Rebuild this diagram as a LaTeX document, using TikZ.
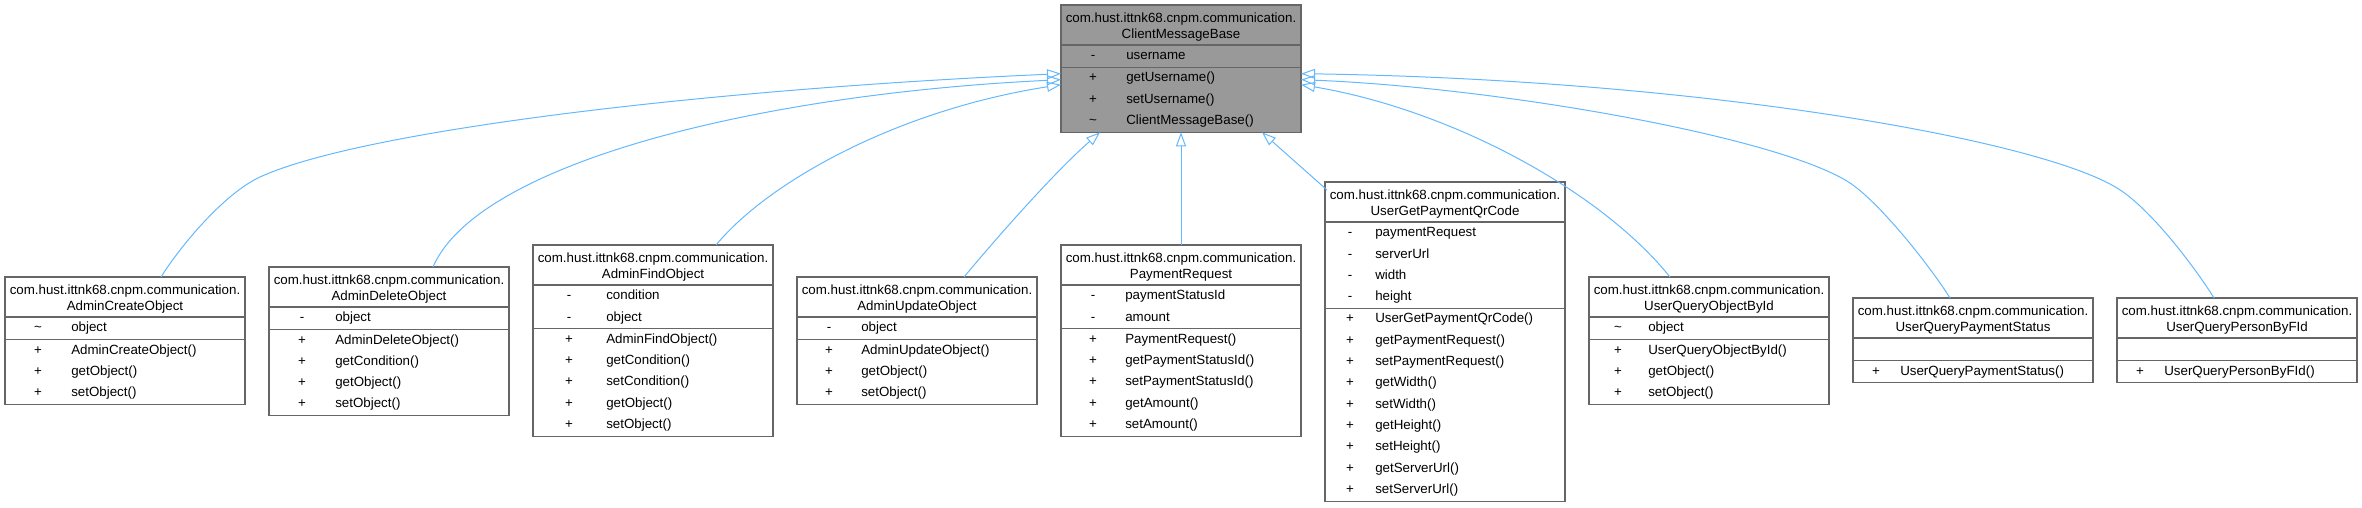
\documentclass[tikz,border=0pt]{standalone}
\usepackage{fontspec}
\setmainfont{Liberation Sans}
\usetikzlibrary{arrows.meta,calc}
\definecolor{edgeblue}{HTML}{63B8FF}
\definecolor{boxgray}{HTML}{666666}
\definecolor{basegray}{HTML}{999999}
\tikzset{
  classbox/.style={draw=boxgray, line width=1pt, inner sep=0pt, outer sep=0pt, minimum width=180pt, anchor=north west},
  rowtext/.style={inner sep=0pt, text height=7.5pt, text depth=2pt, font=\fontsize{10}{12}\selectfont},
  inherit/.style={edgeblue, line width=0.75pt, -{Triangle[open, length=10.5pt, width=7.5pt]}},
}
\newcommand{\umlclass}[8]{%
  \gdef\nattr{1}\gdef\nmeth{1}
  \foreach \v/\t [count=\i] in {#6} {\xdef\nattr{\i}}
  \foreach \v/\t [count=\i] in {#7} {\xdef\nmeth{\i}}
  \pgfmathsetmacro\hattr{\nattr*21.33+1}
  \pgfmathsetmacro\htot{40+\hattr+\nmeth*21.33+1}
  \begin{scope}[shift={#2}]
    \node[classbox, fill=#8, minimum height=\htot*0.75pt] (#1) at (0,0) {};
    \node[rowtext] (#1-t1) at (120,14) {com.hust.ittnk68.cnpm.communication.};
    \node[rowtext] (#1-t2) at (120,30) {#3};
    \draw[boxgray, line width=1pt] (0,40) -- (240,40) (0,{40+\hattr}) -- (240,{40+\hattr});
    \foreach \v/\t [count=\i] in {#6} {
      \node[rowtext] (#1-av\i) at (#4,{51+(\i-1)*21.33}) {\v};
      \node[rowtext, anchor=west] (#1-an\i) at (#5,{51+(\i-1)*21.33}) {\t};}
    \foreach \v/\t [count=\i] in {#7} {
      \node[rowtext] (#1-mv\i) at (#4,{51+\hattr+(\i-1)*21.33}) {\v};
      \node[rowtext, anchor=west] (#1-mn\i) at (#5,{51+\hattr+(\i-1)*21.33}) {\t};}
  \end{scope}}
\begin{document}
\begin{tikzpicture}[x=0.75pt, y=-0.75pt]
\useasboundingbox (0,0) rectangle (2362,507);
\umlclass{base}{(1061,5)}{ClientMessageBase}{32}{65}{-/username}{+/getUsername(), +/setUsername(), \textasciitilde/ClientMessageBase()}{basegray}
\umlclass{acreate}{(5,277)}{AdminCreateObject}{33}{66}{\textasciitilde/object}{+/AdminCreateObject(), +/getObject(), +/setObject()}{white}
\umlclass{adelete}{(269,267)}{AdminDeleteObject}{33}{66}{-/object}{+/AdminDeleteObject(), +/getCondition(), +/getObject(), +/setObject()}{white}
\umlclass{afind}{(533,245)}{AdminFindObject}{36}{73}{-/condition, -/object}{+/AdminFindObject(), +/getCondition(), +/setCondition(), +/getObject(), +/setObject()}{white}
\umlclass{aupdate}{(797,277)}{AdminUpdateObject}{32}{64}{-/object}{+/AdminUpdateObject(), +/getObject(), +/setObject()}{white}
\umlclass{payreq}{(1061,245)}{PaymentRequest}{32}{64}{-/paymentStatusId, -/amount}{+/PaymentRequest(), +/getPaymentStatusId(), +/setPaymentStatusId(), +/getAmount(), +/setAmount()}{white}
\umlclass{ugpqr}{(1325,182)}{UserGetPaymentQrCode}{25}{50}{-/paymentRequest, -/serverUrl, -/width, -/height}{+/UserGetPaymentQrCode(), +/getPaymentRequest(), +/setPaymentRequest(), +/getWidth(), +/setWidth(), +/getHeight(), +/setHeight(), +/getServerUrl(), +/setServerUrl()}{white}
\umlclass{uqobj}{(1589,277)}{UserQueryObjectById}{29}{59}{\textasciitilde/object}{+/UserQueryObjectById(), +/getObject(), +/setObject()}{white}
\umlclass{uqpay}{(1853,298)}{UserQueryPaymentStatus}{23}{47}{}{+/UserQueryPaymentStatus()}{white}
\umlclass{uqperson}{(2117,298)}{UserQueryPersonByFId}{23}{47}{}{+/UserQueryPersonByFId()}{white}
\draw[inherit] ($(acreate.north)+(36,0)$) .. controls +(20,-32) and +(-35,16) .. ++(99,-100)
  .. controls +(100,-46) and +(-361,16) .. ($(base.west)+(0,5)$);
\draw[inherit] ($(adelete.north)+(44,0)$) .. controls +(44,-102) and +(-311,15) .. ($(base.west)+(0,11)$);
\draw[inherit] ($(afind.north)+(63,0)$) .. controls +(54,-65) and +(-161,25) .. ($(base.west)+(0,16)$);
\draw[inherit] ($(aupdate.north)+(47,0)$) .. controls +(46,-55) and +(-40,35) .. ($(base.south west)+(39,0)$);
\draw[inherit] (payreq.north) -- (base.south);
\draw[inherit] ($(ugpqr.north west)+(2,8)$) -- ($(base.south east)+(-39,0)$);
\draw[inherit] ($(uqobj.north)+(-39,0)$) .. controls +(-70,-87) and +(149,25) .. ($(base.east)+(0,16)$);
\draw[inherit] ($(uqpay.north)+(-23,0)$) .. controls +(-20,-32) and +(30,20) .. ++(-100,-115)
  .. controls +(-70,-46) and +(199,8) .. ($(base.east)+(0,11)$);
\draw[inherit] ($(uqperson.north)+(-23,0)$) .. controls +(-20,-32) and +(33,20) .. ++(-97,-110)
  .. controls +(-80,-49) and +(399,6) .. ($(base.east)+(0,5)$);
\end{tikzpicture}
\end{document}
